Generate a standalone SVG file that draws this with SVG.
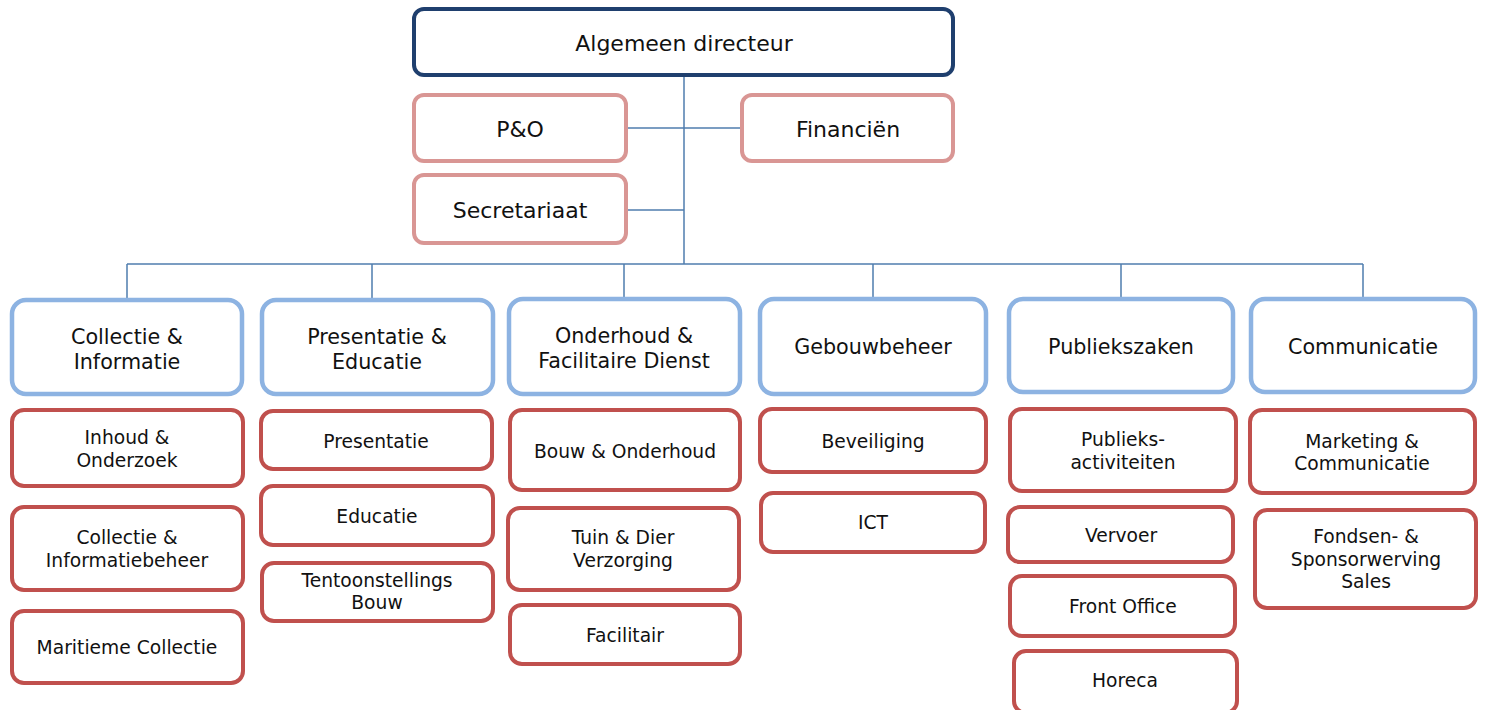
<svg xmlns="http://www.w3.org/2000/svg" width="1486" height="710" viewBox="0 0 1486 710">
<style>
text{font-family:"DejaVu Sans","Verdana",sans-serif;fill:#111;text-anchor:middle}
.top rect{fill:#fff;stroke:#1F3F6E;stroke-width:4}
.staf rect{fill:#fff;stroke:#D99694;stroke-width:4}
.afd rect{fill:#fff;stroke:#8DB3E2;stroke-width:4.5}
.team rect{fill:#fff;stroke:#C0504D;stroke-width:4}
.top text,.staf text{font-size:22px}
.afd text{font-size:20.7px}
.team text{font-size:18.7px}
#connectors path{fill:none;stroke:#4F7DAE;stroke-width:1.5}
</style>
<rect width="1486" height="710" fill="#fff"/>
<g id="connectors">
<path d="M684,75 V264"/>
<path d="M626,128 H742"/>
<path d="M626,210 H684"/>
<path d="M127,264 H1363"/>
<path d="M127,264 V300 M372,264 V300 M624,264 V299 M873,264 V299 M1121,264 V299 M1363,264 V299"/>
</g>
<g id="n-directeur" class="top"><rect x="414" y="9" width="539" height="66" rx="10"/><text x="684" y="51">Algemeen directeur</text></g>
<g id="n-po" class="staf"><rect x="414" y="95" width="212" height="66" rx="10"/><text x="520" y="137">P&amp;O</text></g>
<g id="n-financien" class="staf"><rect x="742" y="95" width="211" height="66" rx="10"/><text x="848" y="137">Financiën</text></g>
<g id="n-secretariaat" class="staf"><rect x="414" y="175" width="212" height="68" rx="10"/><text x="520" y="218">Secretariaat</text></g>

<g id="n-collectie-informatie" class="afd"><rect x="12" y="300" width="230" height="94" rx="14"/><text x="127" y="344">Collectie &amp;</text><text x="127" y="369">Informatie</text></g>
<g id="n-presentatie-educatie" class="afd"><rect x="262" y="300" width="231" height="94" rx="14"/><text x="377" y="344">Presentatie &amp;</text><text x="377" y="369">Educatie</text></g>
<g id="n-onderhoud" class="afd"><rect x="509" y="299" width="231" height="95" rx="14"/><text x="624" y="343">Onderhoud &amp;</text><text x="624" y="368">Facilitaire Dienst</text></g>
<g id="n-gebouwbeheer" class="afd"><rect x="760" y="299" width="226" height="95" rx="14"/><text x="873" y="354">Gebouwbeheer</text></g>
<g id="n-publiekszaken" class="afd"><rect x="1009" y="299" width="224" height="93" rx="14"/><text x="1121" y="354">Publiekszaken</text></g>
<g id="n-communicatie" class="afd"><rect x="1251" y="299" width="224" height="93" rx="14"/><text x="1363" y="354">Communicatie</text></g>

<g id="n-inhoud" class="team"><rect x="12" y="410" width="231" height="76" rx="12"/><text x="127" y="444">Inhoud &amp;</text><text x="127" y="467">Onderzoek</text></g>
<g id="n-collectiebeheer" class="team"><rect x="12" y="507" width="231" height="83" rx="12"/><text x="127" y="544">Collectie &amp;</text><text x="127" y="567">Informatiebeheer</text></g>
<g id="n-maritieme" class="team"><rect x="12" y="611" width="231" height="72" rx="12"/><text x="127" y="654">Maritieme Collectie</text></g>

<g id="n-presentatie" class="team"><rect x="261" y="411" width="231" height="58" rx="12"/><text x="376" y="448">Presentatie</text></g>
<g id="n-educatie" class="team"><rect x="261" y="486" width="232" height="59" rx="12"/><text x="377" y="523">Educatie</text></g>
<g id="n-tentoonstellings" class="team"><rect x="262" y="563" width="231" height="58" rx="12"/><text x="377" y="587">Tentoonstellings</text><text x="377" y="609">Bouw</text></g>

<g id="n-bouw" class="team"><rect x="510" y="410" width="230" height="80" rx="12"/><text x="625" y="458">Bouw &amp; Onderhoud</text></g>
<g id="n-tuin" class="team"><rect x="508" y="508" width="231" height="82" rx="12"/><text x="623" y="544">Tuin &amp; Dier</text><text x="623" y="567">Verzorging</text></g>
<g id="n-facilitair" class="team"><rect x="510" y="605" width="230" height="59" rx="12"/><text x="625" y="642">Facilitair</text></g>

<g id="n-beveiliging" class="team"><rect x="760" y="409" width="226" height="63" rx="12"/><text x="873" y="448">Beveiliging</text></g>
<g id="n-ict" class="team"><rect x="761" y="493" width="224" height="59" rx="12"/><text x="873" y="529">ICT</text></g>

<g id="n-publieksactiviteiten" class="team"><rect x="1010" y="409" width="226" height="82" rx="12"/><text x="1123" y="446">Publieks-</text><text x="1123" y="469">activiteiten</text></g>
<g id="n-vervoer" class="team"><rect x="1008" y="507" width="225" height="55" rx="12"/><text x="1121" y="542">Vervoer</text></g>
<g id="n-frontoffice" class="team"><rect x="1010" y="576" width="225" height="60" rx="12"/><text x="1123" y="613">Front Office</text></g>
<g id="n-horeca" class="team"><rect x="1014" y="651" width="223" height="62" rx="12"/><text x="1125" y="687">Horeca</text></g>

<g id="n-marketing" class="team"><rect x="1250" y="410" width="225" height="83" rx="12"/><text x="1362" y="448">Marketing &amp;</text><text x="1362" y="470">Communicatie</text></g>
<g id="n-fondsen" class="team"><rect x="1255" y="510" width="221" height="98" rx="12"/><text x="1366" y="543">Fondsen- &amp;</text><text x="1366" y="566">Sponsorwerving</text><text x="1366" y="588">Sales</text></g>
</svg>
